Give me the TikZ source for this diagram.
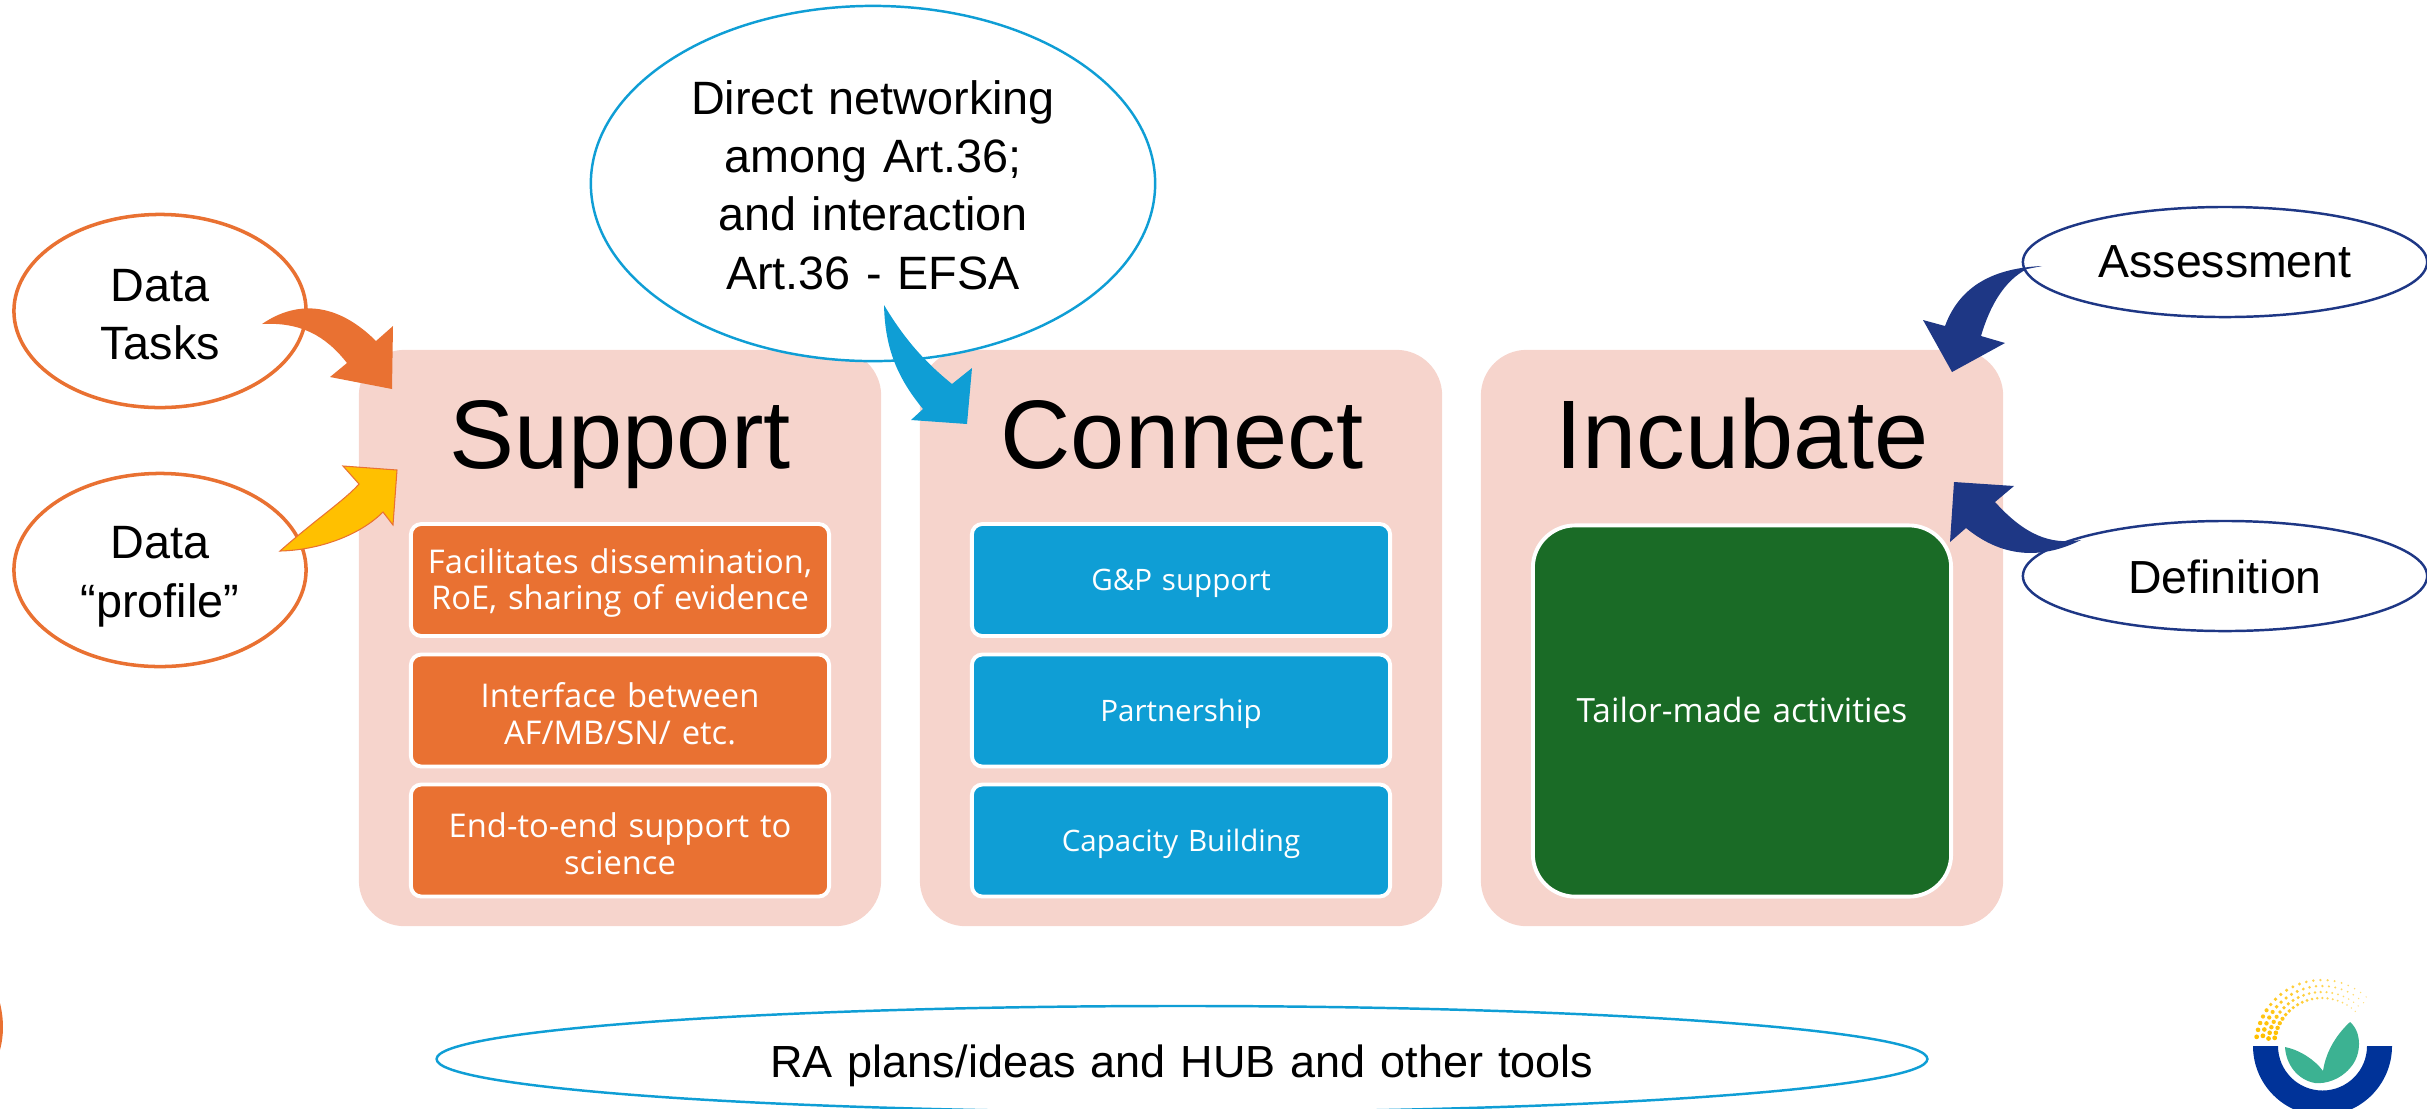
\documentclass[tikz,border=0pt]{standalone}
\usepackage{fontspec}
\setmainfont{Liberation Sans}
\newfontfamily\boxfont{Open Sans}
\definecolor{panelpink}{RGB}{246, 212, 204}
\definecolor{orange1}{RGB}{233, 113, 50}
\definecolor{sky1}{RGB}{15, 158, 213}
\definecolor{navy1}{RGB}{30, 55, 133}
\definecolor{green1}{RGB}{26, 107, 38}
\definecolor{yellow1}{RGB}{255, 192, 0}
\definecolor{logoblue}{RGB}{0, 51, 153}
\definecolor{logogreen}{RGB}{60, 178, 146}
\usetikzlibrary{shapes.geometric, positioning}

\tikzset{
  panel/.style={fill=panelpink, rounded corners=13pt, minimum width=5.22cm, minimum height=5.76cm},
  inbox/.style={draw=white, line width=1.1pt, rounded corners=3pt, inner sep=0pt, minimum width=4.18cm, minimum height=1.12cm, text width=4.18cm, align=center, text=white, font=\boxfont\fontsize{8.4}{10.4}\selectfont},
  bigbox/.style={inbox, fill=orange1, lower=8.8pt, font=\boxfont\fontsize{9.3}{10.4}\selectfont},
  title/.style={anchor=base, font=\fontsize{27.7}{30}\selectfont},
  bubble/.style={ellipse, fill=white, align=center, inner sep=0pt},
  lower/.style={execute at begin node={\rule{0pt}{#1}}},
  label1/.style={font=\fontsize{13.3}{16.6}\selectfont},
  label2/.style={font=\fontsize{13.2}{15}\selectfont}
}

\begin{document}
\begin{tikzpicture}[x=0.01cm, y=-0.01cm]
  \useasboundingbox (0,0) rectangle (2427,1108);
  \clip (0,0) rectangle (2427,1108);

  % Three panels
  \node[panel] (support) at (620,638) {};
  \node[panel] (connect) at (1181,638) {};
  \node[panel] (incubate) at (1742,638) {};
  \node[title] (supporttitle) at (620,468) {Support};
  \node[title] (connecttitle) at (1182,468) {Connect};
  \node[title] (incubatetitle) at (1742,468) {Incubate};

  % Boxes inside the panels
  \node[bigbox] (support1) at (620,580) {Facilitates dissemination,\\RoE, sharing of evidence};
  \node[bigbox] (support2) at (620,710.5) {Interface between\\AF/MB/SN/ etc.};
  \node[bigbox] (support3) at (620,840.5) {End-to-end support to\\science};

  \node[inbox, fill=sky1, lower=8pt] (connect1) at (1181,580) {G\&P support};
  \node[inbox, fill=sky1, lower=8pt] (connect2) at (1181,710.5) {Partnership};
  \node[inbox, fill=sky1, lower=8pt] (connect3) at (1181,840.5) {Capacity Building};

  \node[inbox, fill=green1, rounded corners=12pt, minimum height=3.71cm, font=\boxfont\fontsize{9.5}{10.4}\selectfont] (tailor) at (1742,711) {Tailor-made activities\par\vspace{0.5pt}};

  % Bubbles
  \node[bubble, draw=orange1, line width=1pt, minimum width=2.92cm, minimum height=1.93cm, text width=2cm, lower=11.2pt, label1] (tasks) at (160,311) {Data\\Tasks};
  \node[bubble, draw=orange1, line width=1pt, minimum width=2.92cm, minimum height=1.93cm, text width=2cm, lower=13pt, label1] (profile) at (160,570) {Data\\``profile''};
  \node[bubble, draw=sky1, line width=0.7pt, minimum width=5.64cm, minimum height=3.55cm, text width=3.8cm, lower=10.5pt, label1] (direct) at (873,183.5) {Direct networking\\among Art.36;\\and interaction\\Art.36 - EFSA};
  \node[bubble, draw=navy1, line width=0.7pt, minimum width=4.04cm, minimum height=1.1cm, label2] (assess) at (2225,262) {Assessment};
  \node[bubble, draw=navy1, line width=0.7pt, minimum width=4.04cm, minimum height=1.1cm, text width=2.6cm, lower=10.35pt, label2] (defin) at (2225,576) {Definition};
  \node[bubble, draw=sky1, line width=0.7pt, minimum width=14.9cm, minimum height=1.06cm, text width=10cm, lower=13pt, font=\fontsize{12.8}{15}\selectfont] (tools) at (1182,1059) {RA plans/ideas and HUB and other tools};

  % Curved arrows
  \coordinate (tasksend) at (262,324);
  \coordinate (tasksgo) at (392,389);
  \fill[orange1] (tasksend) .. controls (300,298) and (340,305) .. (376,341)
    -- (393,326) -- (tasksgo) -- (330,377) -- (347,363)
    .. controls (325,335) and (300,322) .. cycle;
  \coordinate (profileend) at (280,551);
  \coordinate (profilego) at (397,470);
  \filldraw[fill=yellow1, draw=orange1, line width=0.3pt] (profileend) .. controls (315,520) and (345,500) .. (359,484)
    -- (343,466) -- (profilego) -- (393,525) -- (383,512)
    .. controls (360,535) and (320,550) .. cycle;
  \coordinate (directend) at (884,305);
  \coordinate (directgo) at (967,424);
  \fill[sky1] (directend) .. controls (905,340) and (925,362) .. (952,384)
    -- (972,368) -- (directgo) -- (911,420) -- (923,409)
    .. controls (895,375) and (885,345) .. cycle;
  \coordinate (assessend) at (2042,266);
  \coordinate (assessgo) at (1952,372);
  \fill[navy1] (assessend) .. controls (1995,268) and (1960,285) .. (1945,326)
    -- (1923,320) -- (assessgo) -- (2005,343) -- (1981,336)
    .. controls (1990,305) and (2005,280) .. (2027,269) -- cycle;
  \coordinate (definend) at (2081,540);
  \coordinate (defingo) at (1954,482);
  \fill[navy1] (definend) .. controls (2050,545) and (2025,535) .. (1995,502)
    -- (2014,486) -- (defingo) -- (1950,542) -- (1966,528)
    .. controls (2005,560) and (2045,558) .. cycle;

  % Cut-off shape at the left edge
  \fill[orange1] (0,1003) .. controls (4,1020) and (4,1035) .. (0,1050) -- cycle;

  % Logo
  \fill[logoblue] (2253,1046) arc[start angle=180, end angle=0, radius=69.5] -- (2367,1046)
    arc[start angle=0, end angle=180, radius=44.5] -- cycle;
  \fill[logogreen] (2285,1047) .. controls (2300,1050) and (2315,1060) .. (2323,1071)
    .. controls (2326,1050) and (2338,1033) .. (2350,1022)
    .. controls (2362,1032) and (2362,1055) .. (2350,1068)
    .. controls (2340,1080) and (2325,1084) .. (2315,1083)
    .. controls (2298,1080) and (2286,1065) .. cycle;
  \foreach \rr/\off in {66/0, 60/3, 54/0, 48/3} {
    \foreach \aa in {0,...,20} {
      \pgfmathsetmacro{\ang}{172-\aa*6.2-\off*0.6}
      \pgfmathsetmacro{\dotr}{2.4-\aa*0.085}
      \pgfmathsetmacro{\mixp}{100-\aa*2.5}
      \fill[yellow1!\mixp!white] ({2322+\rr*cos(\ang)},{1046-\rr*sin(\ang)}) circle[radius=\dotr];
    }
  }
\end{tikzpicture}
\end{document}
